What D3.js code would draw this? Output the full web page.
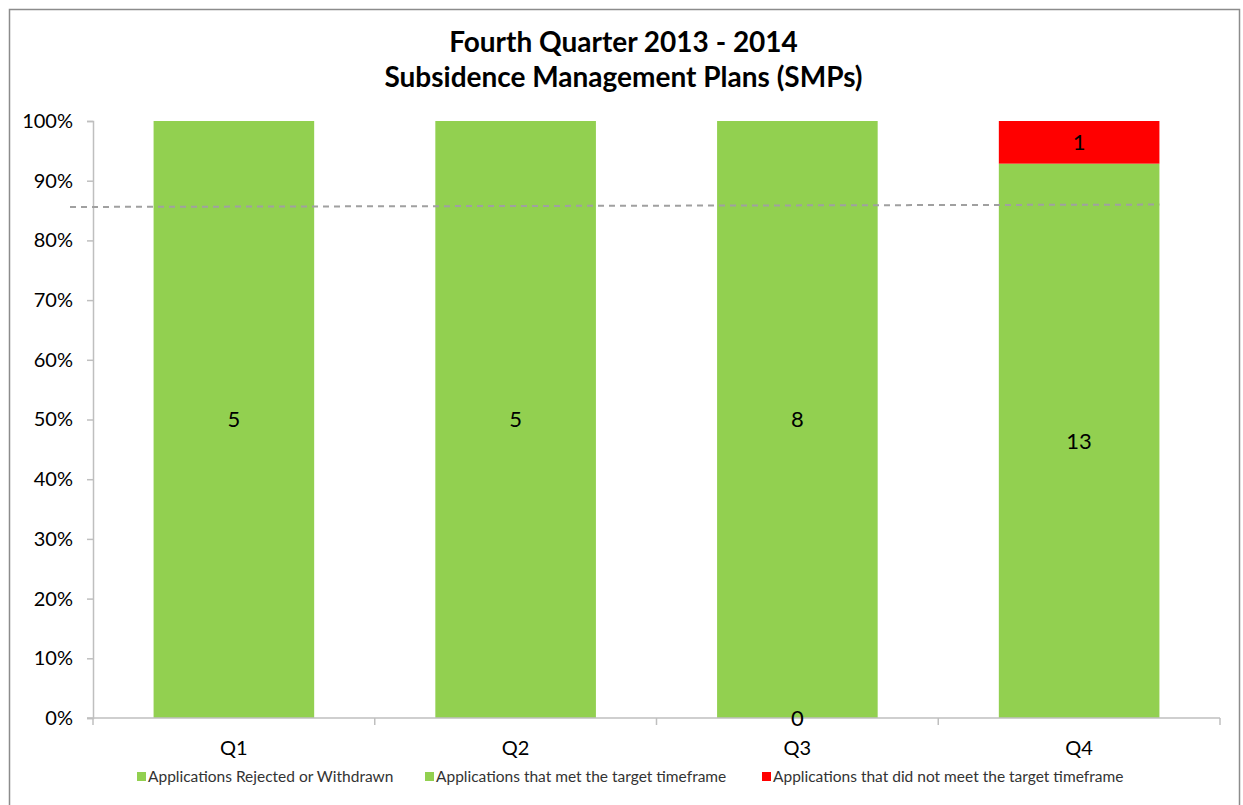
<!DOCTYPE html>
<html>
<head>
<meta charset="utf-8">
<script src="https://cdn.jsdelivr.net/npm/d3@7"></script>
<style>
  body { margin: 0; background: #fff; }
  svg { display: block; font-family: Lato, "Open Sans", sans-serif; }
</style>
</head>
<body>
<div id="chart"></div>
<script>
// Chart data
const titleLines = ["Fourth Quarter 2013 - 2014", "Subsidence Management Plans (SMPs)"];
const quarters = ["Q1", "Q2", "Q3", "Q4"];
const rejected = [null, null, 0, null];   // Applications Rejected or Withdrawn
const metTarget = [5, 5, 8, 13];           // Applications that met the target timeframe
const notMet = [null, null, null, 1];      // Applications that did not meet the target timeframe
const seriesNames = [
    "Applications Rejected or Withdrawn",
    "Applications that met the target timeframe",
    "Applications that did not meet the target timeframe"
];
const seriesColors = ["#92D050", "#92D050", "#FF0000"];
const yTicks = [0, 0.1, 0.2, 0.3, 0.4, 0.5, 0.6, 0.7, 0.8, 0.9, 1];
const targetLine = [0.856, 0.860];         // dashed reference line, start / end level

function drawChart() {
    const width = 1243, height = 805;
    const margin = { top: 121, right: 23, bottom: 87, left: 93 };
    const innerW = width - margin.left - margin.right;
    const innerH = height - margin.top - margin.bottom;

    const svg = d3.select("#chart")
        .append("svg")
        .attr("width", width)
        .attr("height", height);

    // outer frame
    svg.append("rect")
        .attr("x", 9.5).attr("y", 9.5)
        .attr("width", 1230).attr("height", 830)
        .attr("fill", "none")
        .attr("stroke", "#8c8c8c")
        .attr("stroke-width", 1.5);

    // title
    svg.append("g").selectAll("text")
        .data(titleLines)
        .join("text")
        .attr("x", width / 2 + 2)
        .attr("y", (d, i) => 52 + i * 35)
        .attr("text-anchor", "middle")
        .attr("font-size", 28)
        .attr("font-weight", "bold")
        .attr("fill", "#000")
        .text(d => d);

    const g = svg.append("g").attr("transform", `translate(${margin.left},${margin.top})`);

    const x = d3.scaleBand()
        .domain(quarters)
        .range([0, innerW])
        .paddingInner(0.43)
        .paddingOuter(0.215);

    const y = d3.scaleLinear().domain([0, 1]).range([innerH, 0]);

    // stack the counts as shares of each quarter's total
    const rows = quarters.map((q, i) => {
        const total = (rejected[i] || 0) + (metTarget[i] || 0) + (notMet[i] || 0);
        return { q, counts: [rejected[i], metTarget[i], notMet[i]], total };
    });

    const segments = [];
    rows.forEach(r => {
        let acc = 0;
        r.counts.forEach((c, s) => {
            if (c === null) return;
            const share = c / r.total;
            segments.push({ q: r.q, s, value: c, y0: acc, y1: acc + share });
            acc += share;
        });
    });

    // bars
    g.append("g").selectAll("rect")
        .data(segments)
        .join("rect")
        .attr("x", d => x(d.q))
        .attr("width", x.bandwidth())
        .attr("y", d => y(d.y1))
        .attr("height", d => y(d.y0) - y(d.y1))
        .attr("fill", d => seriesColors[d.s]);

    // y axis
    const yAxis = g.append("g")
        .call(d3.axisLeft(y).tickValues(yTicks).tickFormat(d3.format(".0%")).tickSize(6).tickPadding(14));
    yAxis.select(".domain").attr("stroke", "#bfbfbf").attr("stroke-width", 1.5);
    yAxis.selectAll(".tick line").attr("stroke", "#bfbfbf").attr("stroke-width", 1.5);
    yAxis.selectAll(".tick text").attr("font-size", 20).attr("fill", "#000")
        .attr("font-family", "Lato, sans-serif");

    // x axis line
    g.append("line")
        .attr("x1", -6).attr("x2", innerW)
        .attr("y1", innerH).attr("y2", innerH)
        .attr("stroke", "#bfbfbf").attr("stroke-width", 1.5);

    // category separators
    const bounds = quarters.map(q => x(q) - x.step() * x.paddingInner() / 2);
    bounds.push(innerW);
    g.append("g").selectAll("line")
        .data(bounds)
        .join("line")
        .attr("x1", d => d).attr("x2", d => d)
        .attr("y1", innerH).attr("y2", innerH + 7)
        .attr("stroke", "#bfbfbf").attr("stroke-width", 1.5);

    // category labels
    g.append("g").selectAll("text")
        .data(quarters)
        .join("text")
        .attr("x", d => x(d) + x.bandwidth() / 2)
        .attr("y", innerH + 37)
        .attr("text-anchor", "middle")
        .attr("font-size", 20)
        .attr("fill", "#000")
        .text(d => d);

    // dashed target line
    const lastQ = quarters[quarters.length - 1];
    g.append("line")
        .attr("x1", -23)
        .attr("x2", x(lastQ) + x.bandwidth())
        .attr("y1", y(targetLine[0]))
        .attr("y2", y(targetLine[1]))
        .attr("stroke", "#a0a0a0")
        .attr("stroke-width", 2)
        .attr("stroke-dasharray", "6,5");

    // data labels
    g.append("g").selectAll("text")
        .data(segments)
        .join("text")
        .attr("x", d => x(d.q) + x.bandwidth() / 2)
        .attr("y", d => y((d.y0 + d.y1) / 2))
        .attr("dy", "0.35em")
        .attr("text-anchor", "middle")
        .attr("font-size", 22)
        .attr("fill", "#000")
        .text(d => d.value);

    // legend
    const legendX = [137, 425, 762];
    const legend = svg.append("g").selectAll("g")
        .data(seriesNames)
        .join("g")
        .attr("transform", (d, i) => `translate(${legendX[i]},777)`);
    legend.append("rect")
        .attr("x", 0).attr("y", -5)
        .attr("width", 9).attr("height", 9)
        .attr("fill", (d, i) => seriesColors[i]);
    legend.append("text")
        .attr("x", 11)
        .attr("y", 0)
        .attr("dy", "0.35em")
        .attr("font-size", 15.5)
        .attr("fill", "#333")
        .text(d => d);
}

document.addEventListener('DOMContentLoaded', drawChart);
</script>
</body>
</html>
